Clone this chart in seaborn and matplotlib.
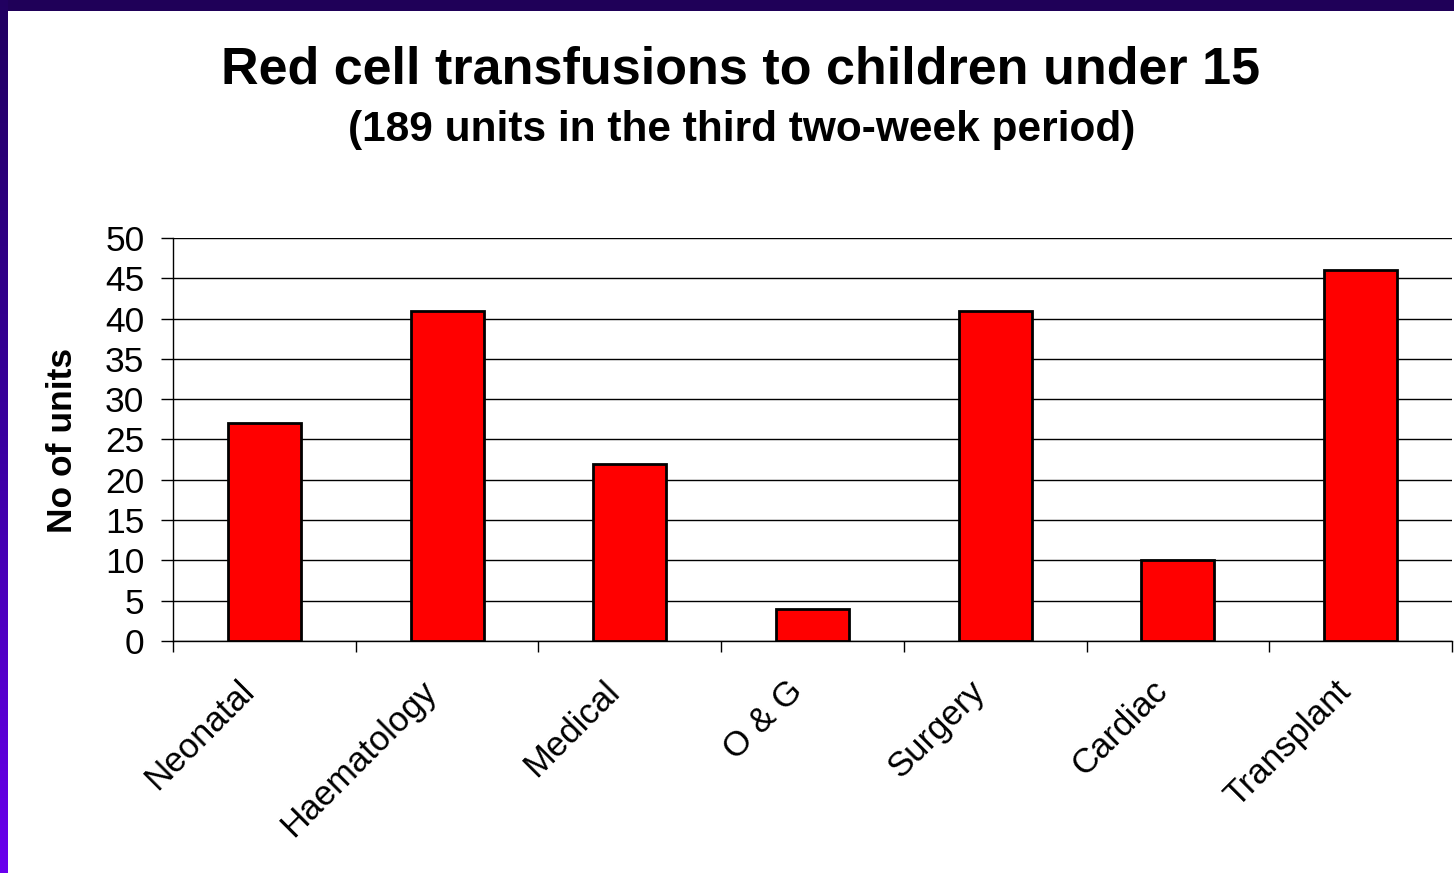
import numpy as np
import matplotlib
matplotlib.use("Agg")
import matplotlib.pyplot as plt
from matplotlib.colors import LinearSegmentedColormap
from matplotlib.transforms import ScaledTranslation
import seaborn as sns

categories = ["Neonatal", "Haematology", "Medical", "O & G", "Surgery", "Cardiac", "Transplant"]
units = [27, 41, 22, 4, 41, 10, 46]
y_ticks = [0, 5, 10, 15, 20, 25, 30, 35, 40, 45, 50]

sns.set_style("white")
plt.rcParams["font.family"] = ["Liberation Sans", "DejaVu Sans"]
plt.rcParams["text.color"] = "black"
plt.rcParams["xtick.color"] = "black"
plt.rcParams["ytick.color"] = "black"
plt.rcParams["axes.labelcolor"] = "black"

W, H = 1454, 873
fig = plt.figure(figsize=(W / 100, H / 100), dpi=100, facecolor="white")

# purple slide frame: top band and left gradient strip
top = fig.add_axes([0, 1 - 11 / H, 1, 11 / H])
top.set_axis_off()
top.add_patch(plt.Rectangle((0, 0), 1, 1, color="#1f0058", transform=top.transAxes))

left = fig.add_axes([0, 0, 8 / W, 1])
cmap = LinearSegmentedColormap.from_list("slide", ["#210060", "#3a00a0", "#6a00ee"])
left.imshow(np.linspace(0, 1, 256).reshape(-1, 1), aspect="auto", cmap=cmap, origin="upper")
left.set_axis_off()

ax = fig.add_axes([173 / W, (H - 641) / H, (1452 - 173) / W, (641 - 238) / H])
sns.barplot(x=categories, y=units, color="#ff0000", saturation=1, width=0.4,
            edgecolor="black", linewidth=2, ax=ax, zorder=3)

ax.set_xlim(-0.5, len(categories) - 0.5)
ax.set_ylim(0, 50)
ax.set_yticks(y_ticks)
ax.set_yticklabels([str(v) for v in y_ticks])
ax.yaxis.grid(True, color="black", linewidth=1)
ax.set_axisbelow(True)

for side in ["top", "right"]:
    ax.spines[side].set_visible(False)
for side in ["left", "bottom"]:
    ax.spines[side].set_color("black")
    ax.spines[side].set_linewidth(1)

ax.set_xticks(np.arange(-0.5, len(categories)), minor=True)
ax.tick_params(axis="x", which="minor", direction="out", length=8, width=1, color="black", bottom=True)
ax.tick_params(axis="x", which="major", length=0, pad=24)
ax.tick_params(axis="y", direction="out", length=8.5, width=1, color="black", left=True, pad=12,
               labelsize=25.5)
ax.set_xticklabels(categories, rotation=45, ha="right", rotation_mode="anchor", fontsize=25)
shift = ScaledTranslation(-0.27, 0, fig.dpi_scale_trans)
for lbl in ax.get_xticklabels():
    lbl.set_transform(lbl.get_transform() + shift)
ax.set_xlabel("")
ax.set_ylabel("")

fig.text(62 / W, (H - 440) / H, "No of units", rotation=90, ha="center", va="center",
         fontsize=25.5, fontweight="bold")
fig.text(741 / W, (H - 70) / H, "Red cell transfusions to children under 15",
         ha="center", va="center", fontsize=37.5, fontweight="bold")
fig.text(742 / W, (H - 130) / H, "(189 units in the third two-week period)",
         ha="center", va="center", fontsize=30.5, fontweight="bold")

fig.savefig("out.png", dpi=100, facecolor="white")
